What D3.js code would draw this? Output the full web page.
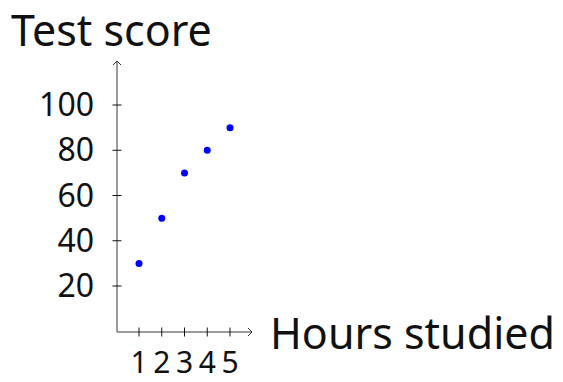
<!DOCTYPE html>
<html><head><meta charset="utf-8">
<script src="https://cdn.jsdelivr.net/npm/d3@7"></script>
<style>body{margin:0;background:#fff}svg{display:block}text{font-family:"Noto Sans",sans-serif}</style>
</head><body>
<script>
const hours = [1, 2, 3, 4, 5];
const scores = [30, 50, 70, 80, 90];
const xTicks = [1, 2, 3, 4, 5];
const yTicks = [20, 40, 60, 80, 100];
const xTitle = "Hours studied";
const yTitle = "Test score";

const W = 563, H = 382;
const svg = d3.select("body").append("svg").attr("width", W).attr("height", H);
const x = d3.scaleLinear().domain([0, 5]).range([116.25, 230]);
const y = d3.scaleLinear().domain([0, 100]).range([331.25, 105]);
const ox = 117, oy = 332;

// axis lines
svg.append("line").attr("x1", ox).attr("y1", oy).attr("x2", 252).attr("y2", oy)
  .attr("stroke", "#7a7a7a").attr("stroke-width", 1.5);
svg.append("line").attr("x1", ox).attr("y1", oy).attr("x2", ox).attr("y2", 61)
  .attr("stroke", "#7a7a7a").attr("stroke-width", 1.5);
// arrows
svg.append("path").attr("d", `M${248},${oy-4} L${252},${oy} L${248},${oy+4}`)
  .attr("fill", "none").attr("stroke", "#333").attr("stroke-width", 1);
svg.append("path").attr("d", `M${ox-4},${65} L${ox},${61} L${ox+4},${65}`)
  .attr("fill", "none").attr("stroke", "#333").attr("stroke-width", 1);

// x ticks
const xt = svg.append("g");
xTicks.forEach(t => {
  xt.append("line").attr("x1", x(t)).attr("x2", x(t)).attr("y1", oy - 4.5).attr("y2", oy + 4.5)
    .attr("stroke", "#111").attr("stroke-width", 1);
  xt.append("text").attr("x", x(t)).attr("y", 373).attr("text-anchor", "middle")
    .attr("font-size", 30).attr("fill", "#111").text(t);
});
// y ticks
const yt = svg.append("g");
yTicks.forEach(t => {
  yt.append("line").attr("x1", ox - 4.5).attr("x2", ox + 4.5).attr("y1", y(t)).attr("y2", y(t))
    .attr("stroke", "#111").attr("stroke-width", 1);
  yt.append("text").attr("x", 94).attr("y", y(t)).attr("dy", "0.35em").attr("text-anchor", "end")
    .attr("font-size", 32).attr("fill", "#111").text(t);
});

// points
svg.append("g").selectAll("circle").data(hours).join("circle")
  .attr("cx", (d) => x(d)).attr("cy", (d, i) => y(scores[i])).attr("r", 3.5).attr("fill", "#0000ff");

// titles
svg.append("text").attr("x", 11).attr("y", 46).attr("font-size", 43).attr("fill", "#111").text(yTitle);
svg.append("text").attr("x", 270).attr("y", 349).attr("font-size", 43).attr("fill", "#111").text(xTitle);
</script>
</body></html>
